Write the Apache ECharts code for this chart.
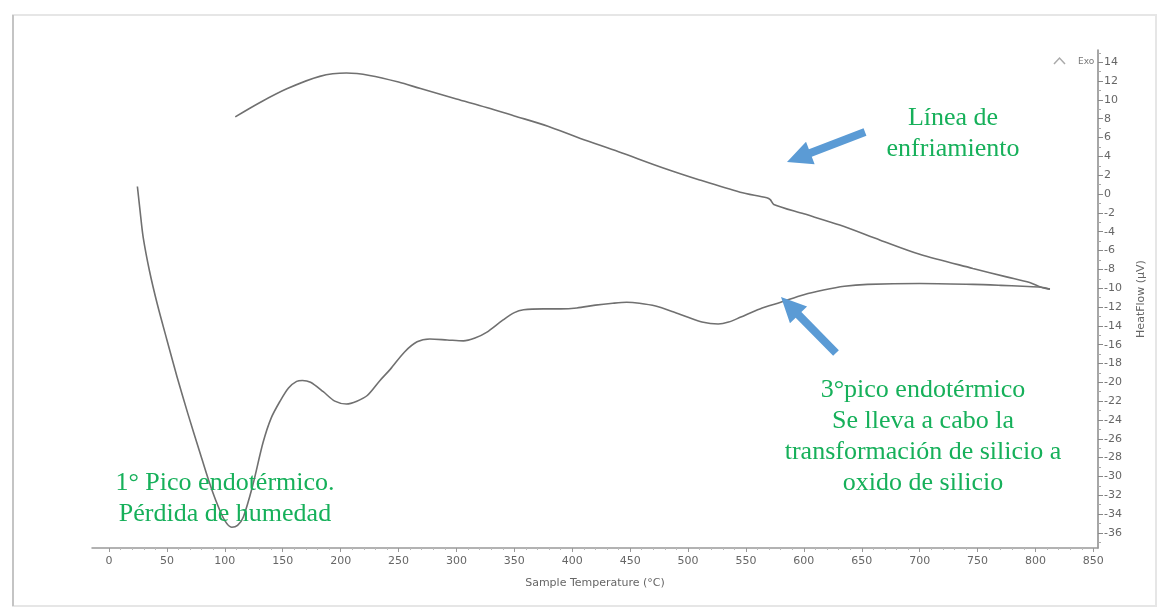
<!DOCTYPE html>
<html>
<head>
<meta charset="utf-8">
<script src="https://cdn.jsdelivr.net/npm/echarts@6/dist/echarts.min.js"></script>
<style>
html, body { margin: 0; padding: 0; background: #fff; }
#main { width: 1159px; height: 608px; }
</style>
</head>
<body>
<div id="main"></div>
<script>
// heating run (lower curve)
var heatT = [24.5, 27, 29.5, 35, 41.5, 50, 58.7, 68, 78.6, 86, 93, 100, 106, 111, 116, 124, 133, 140, 147.7, 155, 162, 167, 174, 185, 195, 205, 214, 223, 234, 243, 255, 266, 277, 292, 306, 316, 326, 340, 350, 358, 375, 390, 404, 420, 435, 447, 458, 472, 487, 500, 512, 526, 535, 545, 562, 580, 600, 617, 635, 655, 700, 746, 770, 789, 805, 812.5];
var heatV = [0.8, -2, -4.6, -8.2, -11.6, -15.5, -19.4, -23.3, -27.5, -30.4, -32.8, -34.7, -35.4, -35.2, -34.3, -31, -26.4, -23.8, -22.0, -20.6, -19.9, -19.8, -20.0, -21.0, -22.0, -22.3, -22.0, -21.4, -19.8, -18.6, -16.8, -15.7, -15.4, -15.5, -15.6, -15.3, -14.7, -13.4, -12.6, -12.3, -12.2, -12.2, -12.1, -11.8, -11.6, -11.5, -11.6, -11.9, -12.5, -13.1, -13.6, -13.8, -13.6, -13.1, -12.2, -11.5, -10.7, -10.2, -9.8, -9.6, -9.5, -9.6, -9.7, -9.8, -9.9, -10.1];

// cooling run (upper curve)
var coolT = [109, 130, 154, 182, 205, 225, 250, 269, 300, 326, 350, 379, 407, 440, 478, 510, 545, 568, 571, 574, 600, 631, 666, 700, 746, 775, 795, 805, 812.5];
var coolV = [8.2, 9.7, 11.2, 12.5, 12.85, 12.6, 11.9, 11.2, 10.1, 9.2, 8.3, 7.2, 5.9, 4.5, 2.8, 1.5, 0.2, -0.4, -0.6, -1.1, -2.1, -3.3, -4.9, -6.4, -7.9, -8.8, -9.4, -9.9, -10.1];

// axis labels
var xTicks = [0, 50, 100, 150, 200, 250, 300, 350, 400, 450, 500, 550, 600, 650, 700, 750, 800, 850];
var xMinor = [10,20,30,40,60,70,80,90,110,120,130,140,160,170,180,190,210,220,230,240,260,270,280,290,310,320,330,340,360,370,380,390,410,420,430,440,460,470,480,490,510,520,530,540,560,570,580,590,610,620,630,640,660,670,680,690,710,720,730,740,760,770,780,790,810,820,830,840];
var yTicks = [-36, -34, -32, -30, -28, -26, -24, -22, -20, -18, -16, -14, -12, -10, -8, -6, -4, -2, 0, 2, 4, 6, 8, 10, 12, 14];
var yMinor = [-37, -35, -33, -31, -29, -27, -25, -23, -21, -19, -17, -15, -13, -11, -9, -7, -5, -3, -1, 1, 3, 5, 7, 9, 11, 13, 15];

function pairs(a, b){
    var out = [];
    a.forEach((v, i)=>{
        out.push([v, b[i]]);
    });
    return out;
}

function arrowPoints(x1, y1, x2, y2, sw, hw, hl){
    var dx = x2 - x1, dy = y2 - y1;
    var len = Math.sqrt(dx*dx + dy*dy);
    var ux = dx/len, uy = dy/len;
    var px = -uy, py = ux;
    var bx = x2 - ux*hl, by = y2 - uy*hl;
    return [
        [x1 + px*sw/2, y1 + py*sw/2],
        [bx + px*sw/2, by + py*sw/2],
        [bx + px*hw/2, by + py*hw/2],
        [x2, y2],
        [bx - px*hw/2, by - py*hw/2],
        [bx - px*sw/2, by - py*sw/2],
        [x1 - px*sw/2, y1 - py*sw/2]
    ];
}

var green = '#16b05a';
var noteFont = { fontFamily: 'Liberation Serif', fontSize: 26, lineHeight: 31, fill: green, textAlign: 'center', textVerticalAlign: 'middle' };

var myChart = echarts.init(document.getElementById('main'));
var option = {
    animation: false,
    backgroundColor: '#fff',
    grid: { left: 92, right: 61, top: 50, bottom: 60, containLabel: false },
    xAxis: [
        {
            type: 'value',
            min: -14.7,
            max: 854,
            position: 'bottom',
            name: 'Sample Temperature (°C)',
            nameLocation: 'middle',
            nameGap: 30,
            nameTextStyle: { color: '#666', fontSize: 11, fontFamily: 'DejaVu Sans' },
            axisLine: { onZero: false, lineStyle: { color: '#999', width: 1.5 } },
            axisTick: { show: true, length: 4, customValues: xTicks, lineStyle: { color: '#999' } },
            axisLabel: { customValues: xTicks, color: '#666', fontSize: 11, fontFamily: 'DejaVu Sans', margin: 8 },
            splitLine: { show: false }
        },
        {
            type: 'value',
            min: -14.7,
            max: 854,
            position: 'bottom',
            axisLine: { show: false, onZero: false },
            axisTick: { show: true, length: 2, customValues: xMinor, lineStyle: { color: '#bbb' } },
            axisLabel: { show: false },
            splitLine: { show: false }
        }
    ],
    yAxis: [
        {
            type: 'value',
            position: 'right',
            min: -37.6,
            max: 15.3,
            name: 'HeatFlow (µV)',
            nameLocation: 'middle',
            nameRotate: 90,
            nameGap: 38,
            nameTextStyle: { color: '#666', fontSize: 11, fontFamily: 'DejaVu Sans' },
            axisLine: { show: true, onZero: false, lineStyle: { color: '#888', width: 1.5 } },
            axisTick: { show: true, length: 5, customValues: yTicks, lineStyle: { color: '#888' } },
            axisLabel: { customValues: yTicks, color: '#666', fontSize: 11, fontFamily: 'DejaVu Sans', margin: 6 },
            splitLine: { show: false }
        },
        {
            type: 'value',
            position: 'right',
            min: -37.6,
            max: 15.3,
            axisLine: { show: false, onZero: false },
            axisTick: { show: true, length: 3, customValues: yMinor, lineStyle: { color: '#aaa' } },
            axisLabel: { show: false },
            splitLine: { show: false }
        }
    ],
    series: [
        {
            name: 'Calentamiento',
            type: 'line',
            xAxisIndex: 0,
            yAxisIndex: 0,
            data: pairs(heatT, heatV),
            smooth: 0.3,
            showSymbol: false,
            lineStyle: { color: '#707070', width: 1.6 }
        },
        {
            name: 'Enfriamiento',
            type: 'line',
            xAxisIndex: 0,
            yAxisIndex: 0,
            data: pairs(coolT, coolV),
            smooth: 0.3,
            showSymbol: false,
            lineStyle: { color: '#707070', width: 1.6 }
        }
    ],
    graphic: [
        { type: 'rect', shape: { x: 13, y: 15, width: 1143, height: 591 }, style: { fill: 'none', stroke: '#e6e6e6', lineWidth: 2 }, silent: true },
        { type: 'line', shape: { x1: 13, y1: 15, x2: 13, y2: 606 }, style: { stroke: '#c4c4c4', lineWidth: 2 }, silent: true },
        { type: 'polyline', shape: { points: [[1054, 64], [1059.5, 58], [1065, 64]] }, style: { fill: 'none', stroke: '#aaa', lineWidth: 1.5 } },
        { type: 'text', x: 1078, y: 62, style: { text: 'Exo', fontSize: 9, fontFamily: 'DejaVu Sans', fill: '#777', textVerticalAlign: 'middle' } },
        { type: 'text', x: 953, y: 133.5, z: 100, style: Object.assign({ text: 'Línea de\nenfriamiento' }, noteFont) },
        { type: 'text', x: 923, y: 436.5, z: 100, style: Object.assign({ text: '3°pico endotérmico\nSe lleva a cabo la\ntransformación de silicio a\noxido de silicio' }, noteFont) },
        { type: 'text', x: 225, y: 498.5, z: 100, style: Object.assign({ text: '1° Pico endotérmico.\nPérdida de humedad' }, noteFont) },
        { type: 'polygon', z: 100, shape: { points: arrowPoints(865, 132, 787, 162, 8, 24, 25) }, style: { fill: '#5b9bd5' } },
        { type: 'polygon', z: 100, shape: { points: arrowPoints(836, 353, 781, 297, 8, 24, 25) }, style: { fill: '#5b9bd5' } }
    ]
};

myChart.setOption(option);
</script>
</body>
</html>
